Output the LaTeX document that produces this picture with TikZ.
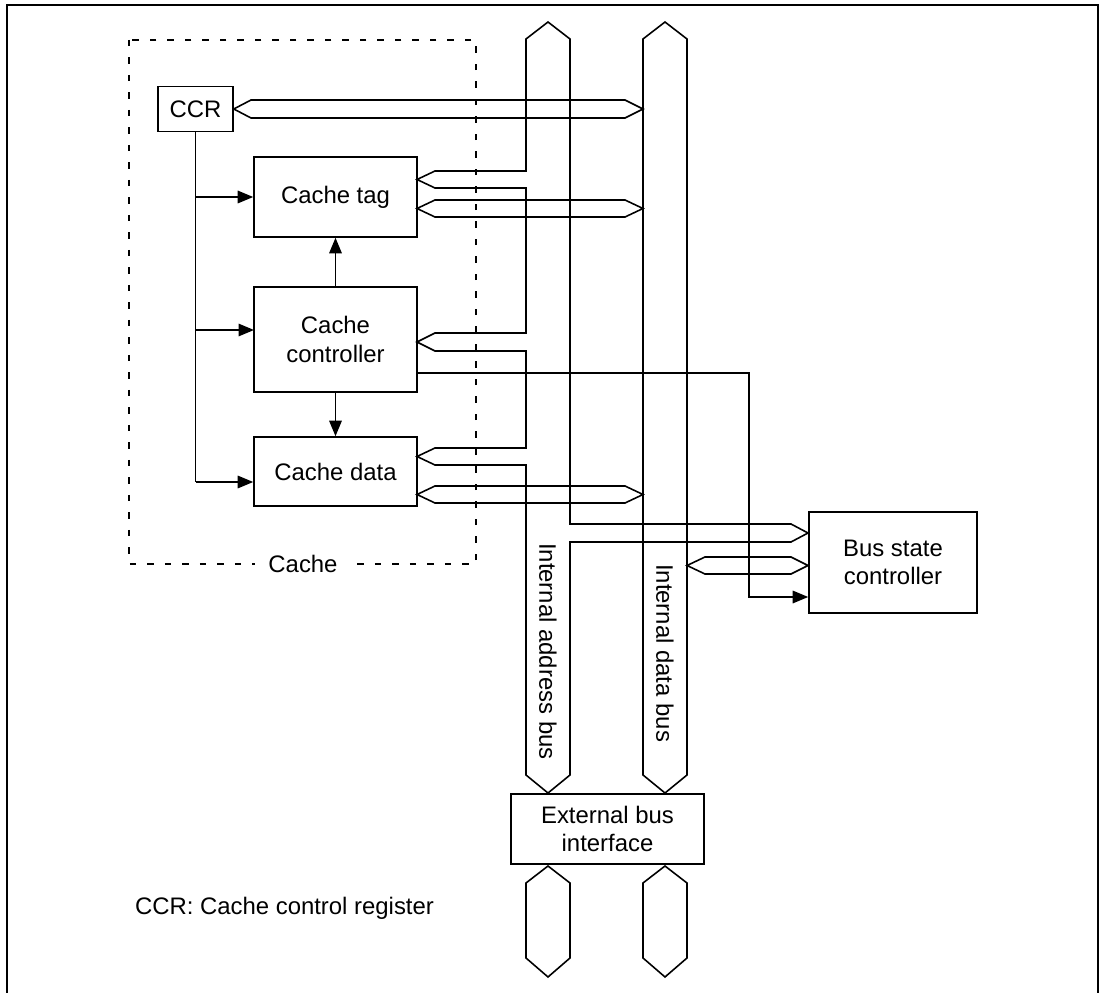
\documentclass[tikz,border=0pt]{standalone}
\usepackage{fontspec}
\setmainfont{Liberation Sans}
\usetikzlibrary{arrows.meta,positioning,calc}

\begin{document}
\begin{tikzpicture}[
  x=0.02cm, y=-0.02cm, % one unit = one pixel of the layout
  block/.style={draw, line width=0.9pt, align=center, inner sep=0pt,
    font=\fontsize{13.6pt}{16pt}\selectfont},
  txt/.style={font=\fontsize{13.6pt}{16pt}\selectfont, inner sep=1pt},
  bus/.style={draw, line width=0.9pt, line join=miter},
  wire/.style={draw, line width=0.9pt},
  arrow/.style={wire, -{Triangle[length=0.31cm, width=0.25cm]}},
  cachebox/.style={draw, line width=0.9pt, dash pattern=on 0.13cm off 0.22cm},
  frame/.style={draw, line width=0.9pt}
]
\useasboundingbox (0,0) rectangle (1103,993);

% --- Outer frame (open at the bottom) ---
\draw[frame] (7,993) -- (7,5) -- (1098,5) -- (1098,993);

% --- Cache region ---
\draw[cachebox] (129,40) rectangle (476,564);
\node[txt, fill=white, inner xsep=0.26cm, inner ysep=0pt] (cacheLbl) at (303,564) {Cache};

% --- Blocks ---
\node[block, minimum width=1.5cm, minimum height=0.9cm] (ccr) at (195.5,109) {CCR};
\node[block, minimum width=3.26cm, minimum height=1.6cm] (tag) at (335.5,197) {Cache tag};
\node[block, minimum width=3.26cm, minimum height=2.1cm] (ctrl) at (335.5,339.5) {Cache\\controller};
\node[block, minimum width=3.26cm, minimum height=1.38cm] (data) at (335.5,471.5) {Cache data};
\node[block, minimum width=3.36cm, minimum height=2.02cm] (bsc) at (893,562.5) {Bus state\\controller};
\node[block, minimum width=3.86cm, minimum height=1.4cm] (ebi) at (607.5,829) {External bus\\interface};

% --- Internal address bus with its taps ---
\draw[bus] (548,22) -- (570,39) -- (570,524) -- (791,524) -- (808,533) -- (791,542)
  -- (570,542) -- (570,775) -- (548,793) -- (526,775)
  -- (526,465) -- (435,465) -- (417,456.5) -- (435,448) -- (526,448)
  -- (526,351) -- (435,351) -- (417,342) -- (435,333) -- (526,333)
  -- (526,188) -- (435,188) -- (417,179.5) -- (435,171) -- (526,171)
  -- (526,39) -- cycle;

% --- Internal data bus ---
\draw[bus] (665,22) -- (687,39) -- (687,775) -- (665,793) -- (643,775) -- (643,39) -- cycle;

% --- Two-way links to the data bus ---
\draw[bus] (ccr.east) -- (251,100) -- (625,100) -- (643,109) -- (625,118) -- (251,118) -- cycle;
\draw[bus] (417,208.5) -- (435,200) -- (625,200) -- (643,208.5) -- (625,217) -- (435,217) -- cycle;
\draw[bus] (417,494.5) -- (435,486) -- (625,486) -- (643,494.5) -- (625,503) -- (435,503) -- cycle;
\draw[bus] (687,565.5) -- (705,557) -- (791,557) -- (808,565.5) -- (791,574) -- (705,574) -- cycle;

% --- External buses ---
\draw[bus] (548,866) -- (570,883) -- (570,958) -- (548,977) -- (526,958) -- (526,883) -- cycle;
\draw[bus] (665,866) -- (687,883) -- (687,958) -- (665,977) -- (643,958) -- (643,883) -- cycle;

% --- Bus names ---
\node[txt, rotate=-90, anchor=west] (addrLbl) at (548,541) {Internal address bus};
\node[txt, rotate=-90, anchor=west] (dataLbl) at (665,562) {Internal data bus};

% --- Control lines ---
\coordinate (ccrEnd) at (195.5,482);
\coordinate (ctrlIn) at (254,330);
\coordinate (ctrlOut) at (417,373);
\coordinate (turn) at (749,597);
\draw[wire] (ccr.south) -- (ccrEnd);
\draw[arrow] (ccrEnd) -- (data.west |- ccrEnd);
\draw[arrow] (ccr.south |- tag.west) -- (tag.west);
\draw[arrow] (ccr.south |- ctrlIn) -- (ctrlIn);
\draw[arrow] (ctrl.north) -- (tag.south);
\draw[arrow] (ctrl.south) -- (data.north);
\draw[arrow] (ctrlOut) -| (turn) -- (bsc.west |- turn);

% --- Legend ---
\node[txt, anchor=west] (legend) at (133,908) {CCR: Cache control register};

\end{tikzpicture}
\end{document}
